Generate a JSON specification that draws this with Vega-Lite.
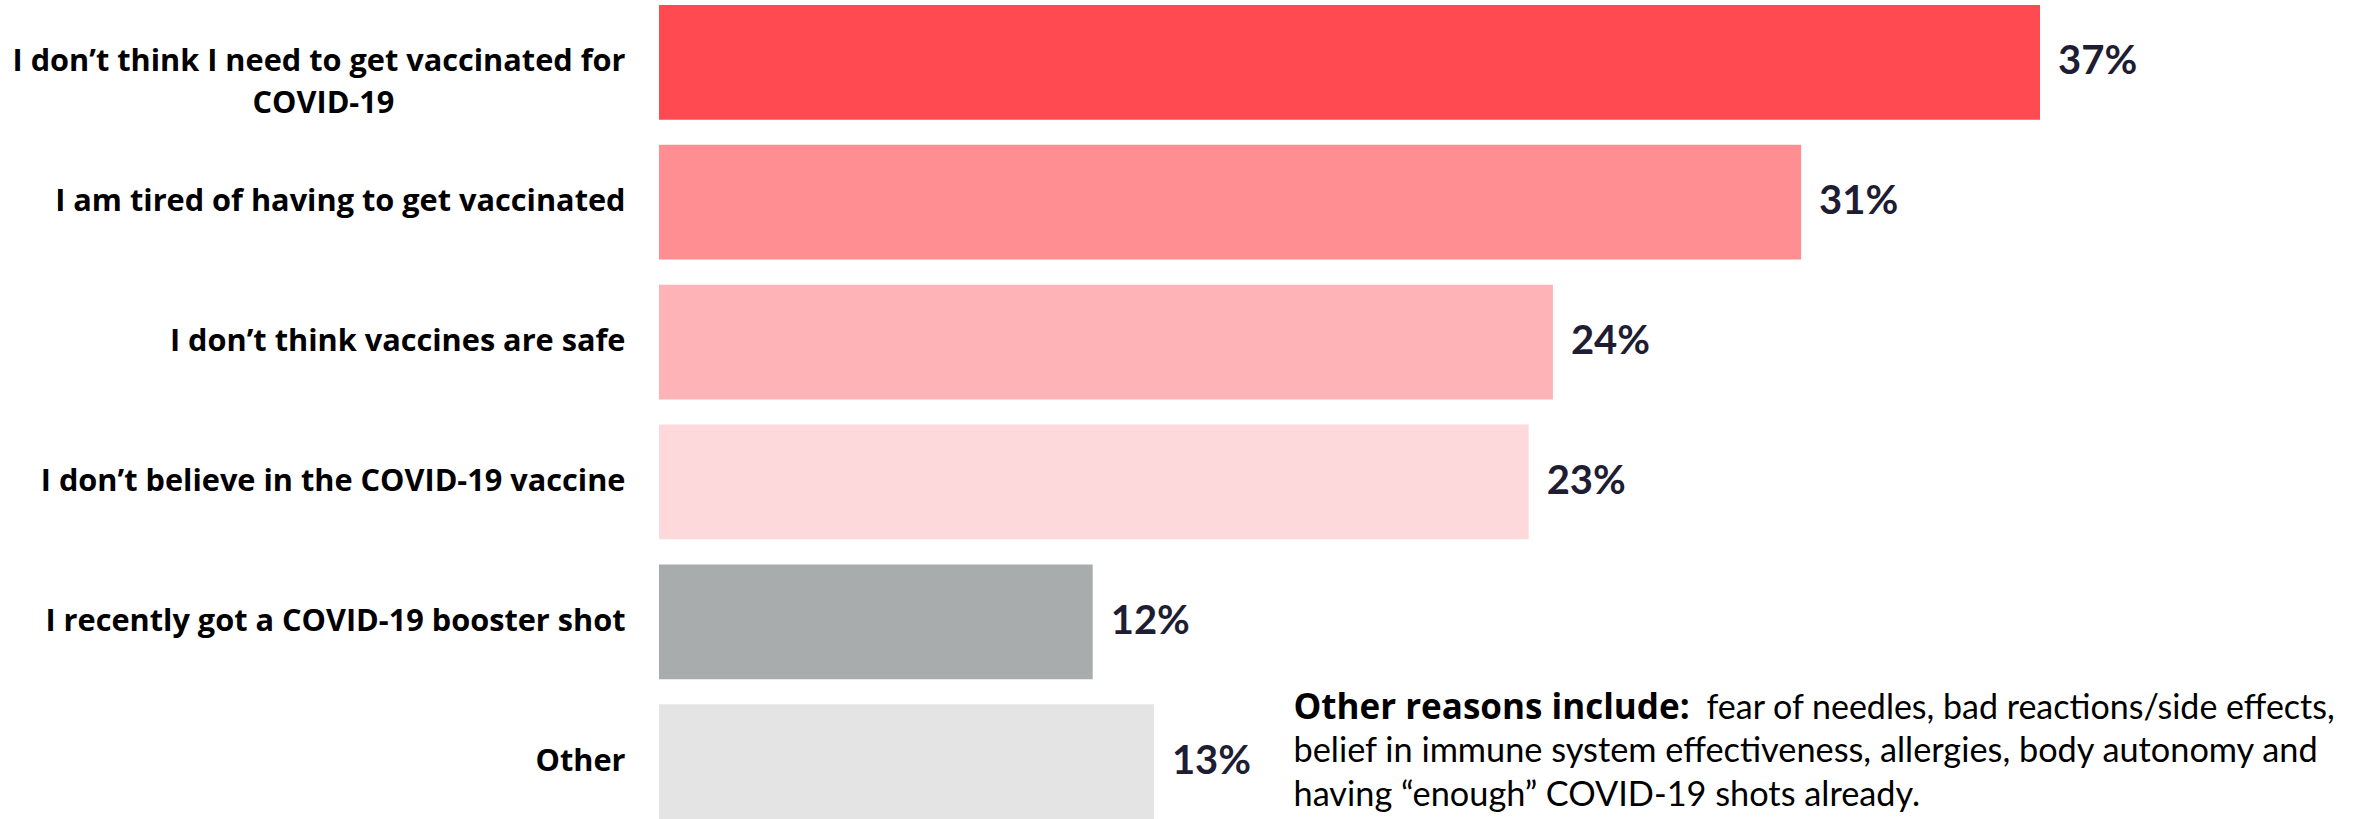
{
  "$schema": "https://vega.github.io/schema/vega-lite/v6.json",
  "autosize": "none",
  "width": 1381,
  "height": 814,
  "padding": {"left": 659, "top": 5, "right": 324, "bottom": 0},
  "background": "#ffffff",
  "config": {"view": {"stroke": null}, "font": "Lato"},
  "data": {
    "values": [
      {"reason": "I don’t think I need to get vaccinated for COVID-19", "value": 37, "label": "37%"},
      {"reason": "I am tired of having to get vaccinated", "value": 30.6, "label": "31%"},
      {"reason": "I don’t think vaccines are safe", "value": 23.95, "label": "24%"},
      {"reason": "I don’t believe in the COVID-19 vaccine", "value": 23.3, "label": "23%"},
      {"reason": "I recently got a COVID-19 booster shot", "value": 11.62, "label": "12%"},
      {"reason": "Other", "value": 13.26, "label": "13%"}
    ]
  },
  "encoding": {
    "y": {
      "field": "reason",
      "type": "nominal",
      "sort": null,
      "scale": {"paddingInner": 0.18, "paddingOuter": 0},
      "axis": {
        "title": null,
        "domain": false,
        "ticks": false,
        "labelPadding": 34,
        "labelLimit": 0,
        "labelFont": "Open Sans",
        "labelFontSize": 30.7,
        "labelFontWeight": "bold",
        "labelColor": "#000000",
        "labelLineHeight": 42,
        "labelExpr": "datum.value == 'I don’t think I need to get vaccinated for COVID-19' ? ['I don’t think I need to get vaccinated for', 'COVID-19\u00a0\u00a0\u00a0\u00a0\u00a0\u00a0\u00a0\u00a0\u00a0\u00a0\u00a0\u00a0\u00a0\u00a0\u00a0\u00a0\u00a0\u00a0\u00a0\u00a0\u00a0\u00a0\u00a0\u00a0\u00a0\u00a0\u00a0\u00a0\u00a0\u200b'] : datum.value"
      }
    }
  },
  "layer": [
    {
      "mark": {"type": "bar"},
      "encoding": {
        "x": {"field": "value", "type": "quantitative", "scale": {"domain": [0, 37], "nice": false}, "axis": null},
        "color": {
          "field": "reason",
          "type": "nominal",
          "legend": null,
          "scale": {
            "domain": ["I don’t think I need to get vaccinated for COVID-19", "I am tired of having to get vaccinated", "I don’t think vaccines are safe", "I don’t believe in the COVID-19 vaccine", "I recently got a COVID-19 booster shot", "Other"],
            "range": ["#FF4A52", "#FF8E93", "#FEB4B7", "#FDD9DC", "#A9ACAD", "#E3E4E3"]
          }
        }
      }
    },
    {
      "mark": {"type": "text", "align": "left", "baseline": "middle", "dx": 18, "font": "Lato", "fontSize": 40, "fontWeight": "bold", "color": "#1E1D33"},
      "encoding": {
        "x": {"field": "value", "type": "quantitative"},
        "text": {"field": "label"}
      }
    },
    {
      "data": {"values": [{}]},
      "mark": {"type": "text", "align": "left", "baseline": "alphabetic", "dy": -42.6, "font": "Open Sans", "fontSize": 35, "fontWeight": "bold", "color": "#000000", "text": "Other reasons include:"},
      "encoding": {"x": {"datum": 17, "type": "quantitative"}, "y": {"datum": "Other", "type": "nominal"}}
    },
    {
      "data": {"values": [{}]},
      "mark": {"type": "text", "align": "left", "baseline": "alphabetic", "dy": -42.6, "dx": 413, "font": "Lato", "fontSize": 34, "fontWeight": "normal", "color": "#000000", "text": "fear of needles, bad reactions/side effects,"},
      "encoding": {"x": {"datum": 17, "type": "quantitative"}, "y": {"datum": "Other", "type": "nominal"}}
    },
    {
      "data": {"values": [{}]},
      "mark": {"type": "text", "align": "left", "baseline": "alphabetic", "dy": 0.4, "lineHeight": 44, "font": "Lato", "fontSize": 34.3, "fontWeight": "normal", "color": "#000000", "text": ["belief in immune system effectiveness, allergies, body autonomy and", "having “enough” COVID-19 shots already."]},
      "encoding": {"x": {"datum": 17, "type": "quantitative"}, "y": {"datum": "Other", "type": "nominal"}}
    }
  ]
}
